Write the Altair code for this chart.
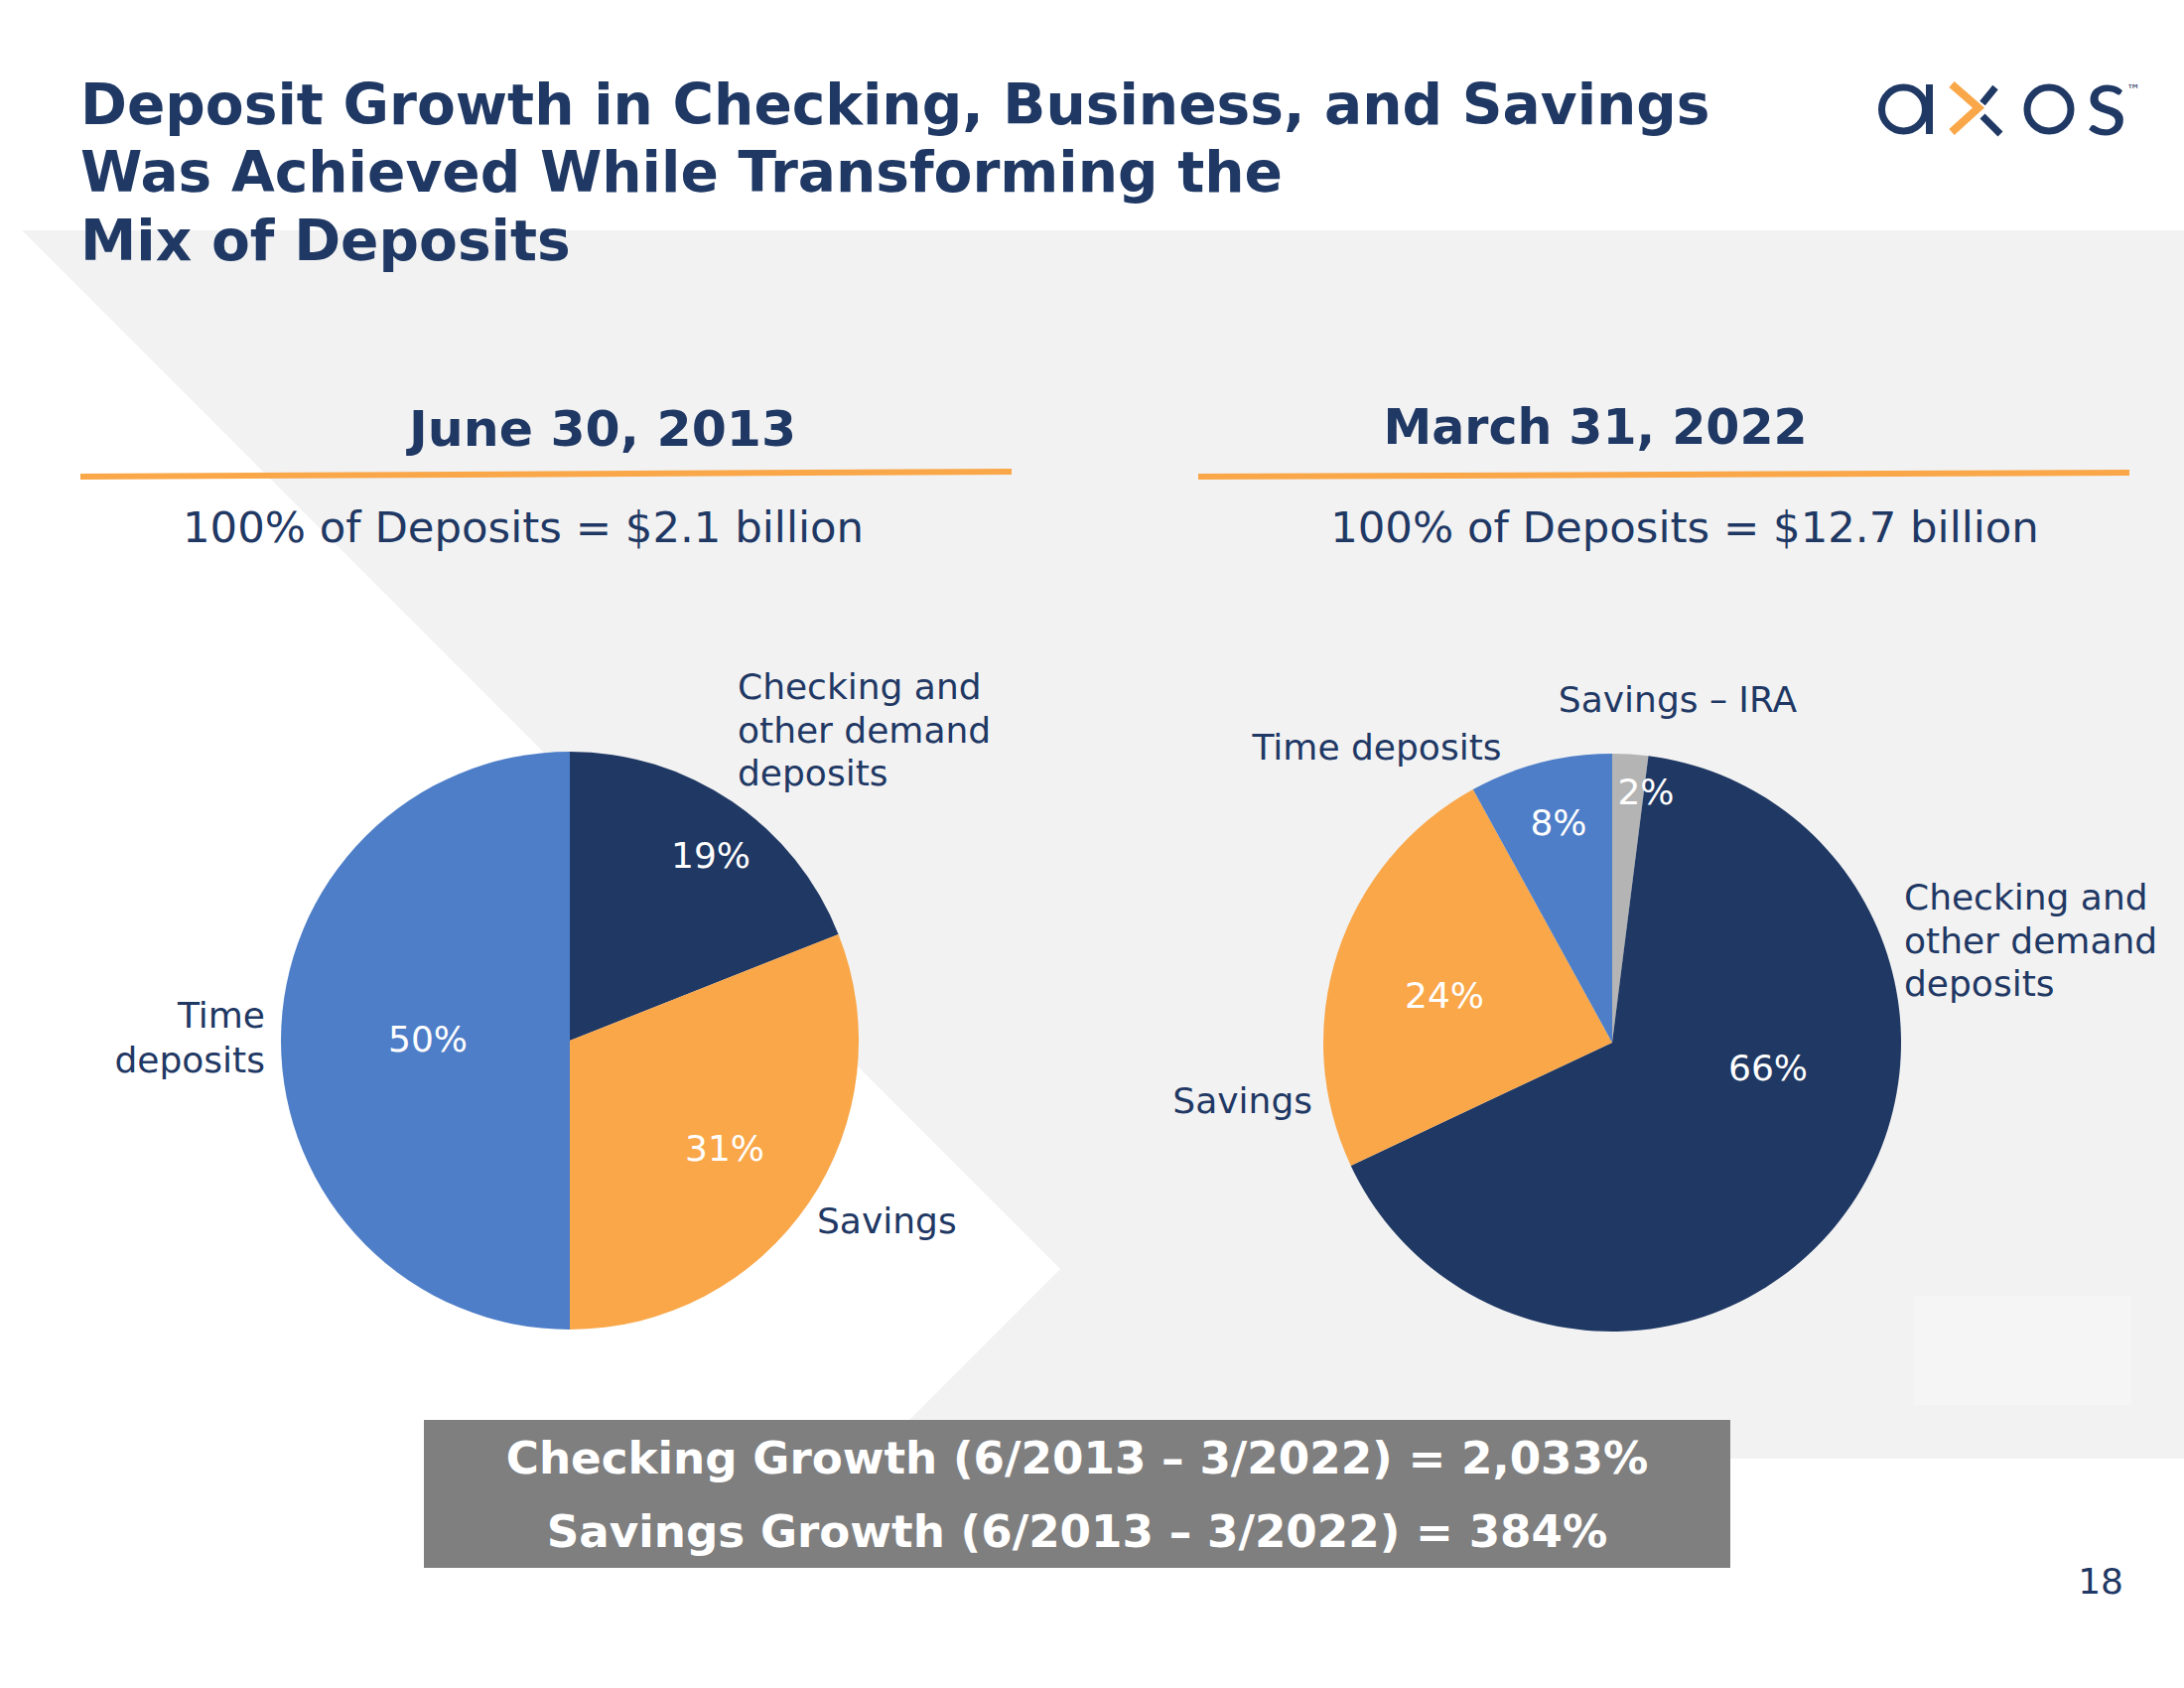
import altair as alt
import pandas as pd

# ---------------- data ----------------
title_lines = [
    "Deposit Growth in Checking, Business, and Savings",
    "Was Achieved While Transforming the",
    "Mix of Deposits",
]
period_labels = ["June 30, 2013", "March 31, 2022"]
total_labels = ["100% of Deposits = $2.1 billion", "100% of Deposits = $12.7 billion"]

categories_2013 = ["Checking and other demand deposits", "Savings", "Time deposits"]
values_2013 = [19, 31, 50]

categories_2022 = ["Savings – IRA", "Checking and other demand deposits", "Savings", "Time deposits"]
values_2022 = [2, 66, 24, 8]

growth_lines = [
    "Checking Growth (6/2013 – 3/2022) = 2,033%",
    "Savings Growth (6/2013 – 3/2022) = 384%",
]
page_number = "18"

# ---------------- styles ----------------
FONT = "DejaVu Sans"
NAVY = "#1F3864"
ORANGE = "#F9A749"
BLUE = "#4E7EC8"
SLICE_GRAY = "#B4B4B4"
BG_GRAY = "#F2F2F2"
BOX_GRAY = "#7F7F7F"

CAT_COLORS = {
    "Checking and other demand deposits": NAVY,
    "Savings": ORANGE,
    "Time deposits": BLUE,
    "Savings – IRA": SLICE_GRAY,
}

W, H = 2200, 1700
R = 291
PIE_2013 = (574, 1048)
PIE_2022 = (1624, 1050)

XS = dict(scale=None, axis=None)


def px(field):
    return alt.X(field, **XS)


def py(field):
    return alt.Y(field, **XS)


def text_layer(rows, size, color=NAVY, weight="normal", align="left", line_height=None):
    df = pd.DataFrame(rows, columns=["text", "x", "y"])
    kw = dict(align=align, baseline="alphabetic", fontSize=size, font=FONT,
              fontWeight=weight, color=color, lineBreak="\n")
    if line_height:
        kw["lineHeight"] = line_height
    return alt.Chart(df).mark_text(**kw).encode(x=px("x:Q"), y=py("y:Q"), text="text:N")


def pie(cats, vals, center):
    df = pd.DataFrame({"category": cats, "share": vals, "slice_order": list(range(len(cats)))})
    return alt.Chart(df).mark_arc(outerRadius=R, x=center[0], y=center[1]).encode(
        theta=alt.Theta("share:Q", stack=True),
        color=alt.Color("category:N",
                        scale=alt.Scale(domain=list(CAT_COLORS), range=list(CAT_COLORS.values())),
                        legend=None),
        order=alt.Order("slice_order:Q", sort="ascending"),
    )


layers = []

# background band with white chevron
layers.append(alt.Chart(pd.DataFrame({"x": [0], "x2": [W], "y": [232], "y2": [1469]}))
              .mark_rect(color=BG_GRAY)
              .encode(x=px("x:Q"), x2="x2:Q", y=py("y:Q"), y2="y2:Q"))
layers.append(alt.Chart(pd.DataFrame({"y": [232, 1278, 1469], "x": [22, 1068, 877], "x0": [0, 0, 0]}))
              .mark_area(color="white", orient="horizontal")
              .encode(y=py("y:Q"), x=px("x:Q"), x2="x0:Q"))
layers.append(alt.Chart(pd.DataFrame({"x": [1928], "x2": [2147], "y": [1305], "y2": [1415]}))
              .mark_rect(color="#F5F5F5")
              .encode(x=px("x:Q"), x2="x2:Q", y=py("y:Q"), y2="y2:Q"))

# orange underlines
layers.append(alt.Chart(pd.DataFrame({"x": [81, 1207], "y": [480, 480], "x2": [1019, 2145], "y2": [475, 476]}))
              .mark_rule(color=ORANGE, strokeWidth=6)
              .encode(x=px("x:Q"), y=py("y:Q"), x2="x2:Q", y2="y2:Q"))

# growth box
layers.append(alt.Chart(pd.DataFrame({"x": [427], "x2": [1743], "y": [1430], "y2": [1579]}))
              .mark_rect(color=BOX_GRAY)
              .encode(x=px("x:Q"), x2="x2:Q", y=py("y:Q"), y2="y2:Q"))

# pies
layers.append(pie(categories_2013, values_2013, PIE_2013))
layers.append(pie(categories_2022, values_2022, PIE_2022))

# title
layers.append(text_layer([(t, 81, b) for t, b in zip(title_lines, [125, 193, 262])], 56.6, weight="bold"))

# period headers and totals
layers.append(text_layer([(period_labels[0], 607, 449)], 50.5, weight="bold", align="center"))
layers.append(text_layer([(period_labels[1], 1607, 447)], 49, weight="bold", align="center"))
layers.append(text_layer([(total_labels[0], 527, 546), (total_labels[1], 1697, 546)], 43.4, align="center"))

# percentage labels (positions = layout)
pct_pos_2013 = {"Checking and other demand deposits": (716, 874), "Savings": (730, 1169),
                "Time deposits": (431, 1059)}
pct_pos_2022 = {"Savings – IRA": (1658, 810), "Checking and other demand deposits": (1781, 1088),
                "Savings": (1455, 1015), "Time deposits": (1570, 841)}
pct_rows = [(f"{v}%",) + pct_pos_2013[c] for c, v in zip(categories_2013, values_2013)]
pct_rows += [(f"{v}%",) + pct_pos_2022[c] for c, v in zip(categories_2022, values_2022)]
layers.append(text_layer(pct_rows, 36, color="white", align="center"))

# category labels
wrap3 = "Checking and\nother demand\ndeposits"
cat_left = [
    (wrap3, 743, 704),
    ("Savings", 823, 1242),
    (wrap3, 1918, 916),
]
cat_right = [
    ("Time\ndeposits", 267, 1035),
    ("Savings", 1322, 1121),
]
cat_center = [
    ("Time deposits", 1387, 765),
    ("Savings – IRA", 1690, 717),
]
layers.append(text_layer(cat_left, 36, align="left", line_height=43.5))
layers.append(text_layer(cat_right, 36, align="right", line_height=44.5))
layers.append(text_layer(cat_center, 36, align="center"))

# growth lines
layers.append(text_layer([(growth_lines[0], 1085, 1484), (growth_lines[1], 1085, 1558)], 45.2,
                         color="white", weight="bold", align="center"))

# page number
layers.append(text_layer([(page_number, 2139, 1605)], 36, align="right"))

# ---- logo "axos" ----
ring_size = 44 ** 2
layers.append(alt.Chart(pd.DataFrame({"x": [1917.5, 2064], "y": [110, 110]}))
              .mark_point(shape="circle", filled=False, size=ring_size, strokeWidth=7, color=NAVY, opacity=1)
              .encode(x=px("x:Q"), y=py("y:Q")))
layers.append(alt.Chart(pd.DataFrame({"x": [1943.5, 2010, 1997], "y": [85, 88, 117],
                                      "x2": [1943.5, 1997, 2015], "y2": [135, 104, 135]}))
              .mark_rule(color=NAVY, strokeWidth=7)
              .encode(x=px("x:Q"), y=py("y:Q"), x2="x2:Q", y2="y2:Q"))
layers.append(alt.Chart(pd.DataFrame({"x": [1966, 1993, 1966], "y": [85, 108.5, 133], "k": [0, 1, 2]}))
              .mark_line(color=ORANGE, strokeWidth=8)
              .encode(x=px("x:Q"), y=py("y:Q"), order="k:Q"))
layers.append(alt.Chart(pd.DataFrame({"text": ["s"], "x": [2101], "y": [136]}))
              .mark_text(font="Lato", fontSize=96, color=NAVY, align="left", baseline="alphabetic")
              .encode(x=px("x:Q"), y=py("y:Q"), text="text:N"))
layers.append(alt.Chart(pd.DataFrame({"text": ["™"], "x": [2142], "y": [95]}))
              .mark_text(font=FONT, fontSize=14, color=NAVY, align="left", baseline="alphabetic")
              .encode(x=px("x:Q"), y=py("y:Q"), text="text:N"))

chart = (
    alt.layer(*layers)
    .properties(width=W, height=H, padding=0, autosize=alt.AutoSizeParams(type="none"),
                background="white")
    .configure_view(stroke=None)
)

chart.save("out.html", embed_options={"renderer": "svg", "actions": False})
